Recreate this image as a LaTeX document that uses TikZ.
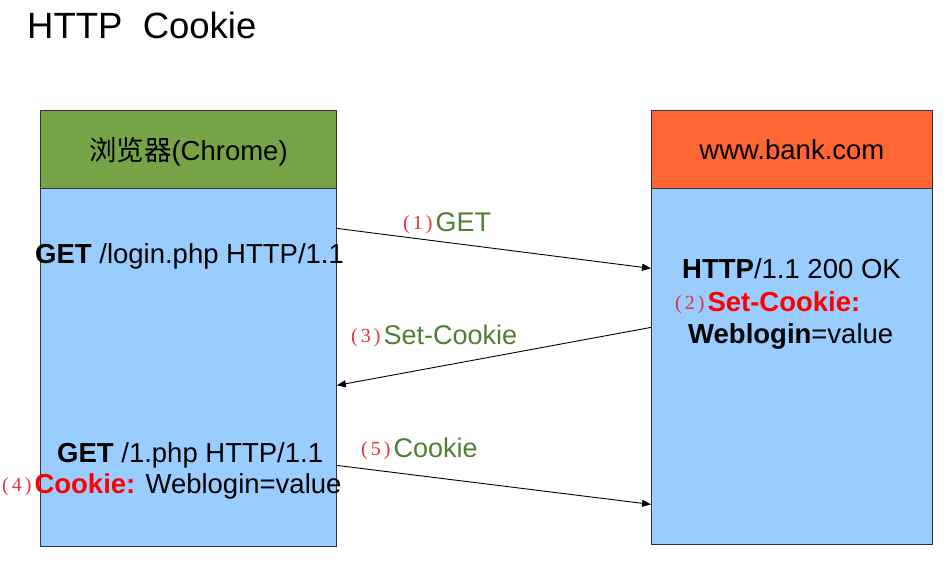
\documentclass[tikz,border=0pt]{standalone}
\usepackage{fontspec}
\setmainfont{Liberation Sans}
\newfontfamily\cjk{Noto Sans CJK SC}
\newfontfamily\serifdig{Liberation Serif}
\usetikzlibrary{arrows.meta}
\definecolor{hdrgreen}{HTML}{77A347}
\definecolor{bodyblue}{HTML}{99CCFF}
\definecolor{hdrorange}{HTML}{FF6633}
\definecolor{lblgreen}{HTML}{4F7F30}
\definecolor{numred}{HTML}{E8303A}
\newcommand{\stepno}[1]{\raisebox{2pt}{\serifdig\fontsize{20}{20}\selectfont\color{numred}(\kern3pt#1\kern3pt)}\kern3pt}
\tikzset{
  box/.style={draw=black!80, line width=0.8pt, rectangle, inner sep=0pt},
  txt/.style={inner sep=0pt, anchor=base west, font=\fontsize{27.5}{30}\selectfont},
  lbl/.style={inner sep=0pt, anchor=base west, font=\fontsize{27}{30}\selectfont, text=lblgreen},
  arr/.style={line width=0.9pt, -{Triangle[length=9pt,width=7pt]}},
}
\begin{document}
\begin{tikzpicture}[x=1pt,y=-1pt]
\useasboundingbox (0,0) rectangle (948,563);
% title
\node[inner sep=0pt, anchor=base west, font=\fontsize{36.5}{40}\selectfont] (title) at (27,38) {HTTP\ \ Cookie};
% left box
\node[box, fill=bodyblue, minimum width=296pt, minimum height=358pt, anchor=north west] (L) at (40,188) {};
\node[box, fill=hdrgreen, minimum width=296pt, minimum height=78pt, anchor=north west, text depth=0pt, font=\fontsize{27.5}{30}\selectfont] (LH) at (40,110) {{\cjk 浏览器}(Chrome)};
% right box
\node[box, fill=bodyblue, minimum width=281pt, minimum height=356pt, anchor=north west] (R) at (651,188) {};
\node[box, fill=hdrorange, minimum width=281pt, minimum height=78pt, anchor=north west, text depth=0pt, font=\fontsize{27.5}{30}\selectfont] (RH) at (651,110) {www.bank.com};
% left texts
\node[txt] (t1) at (35,263) {\textbf{GET} /login.php HTTP/1.1};
\node[txt] (t4a) at (57,462) {\textbf{GET} /1.php HTTP/1.1};
\node[txt] (t4b) at (2,493) {\stepno{4}\textbf{\color{red}Cookie:} Weblogin=value};
% right texts
\node[txt] (t2a) at (682,278) {\textbf{HTTP}/1.1 200 OK};
\node[txt] (t2b) at (675,311) {\stepno{2}\textbf{\color{red}Set-Cookie:}};
\node[txt] (t2c) at (688,343) {\textbf{Weblogin}=value};
% arrow labels
\node[lbl] (l1) at (403,231) {\stepno{1}GET};
\node[lbl] (l3) at (351,344) {\stepno{3}Set-Cookie};
\node[lbl] (l5) at (361,457) {\stepno{5}Cookie};
% arrows
\draw[arr] ([yshift=139pt]L.east) -- ([yshift=98pt]R.west);
\draw[arr] ([yshift=39pt]R.west) -- ([yshift=-18pt]L.east);
\draw[arr] ([yshift=-98pt]L.east) -- ([yshift=-138pt]R.west);
\end{tikzpicture}
\end{document}
